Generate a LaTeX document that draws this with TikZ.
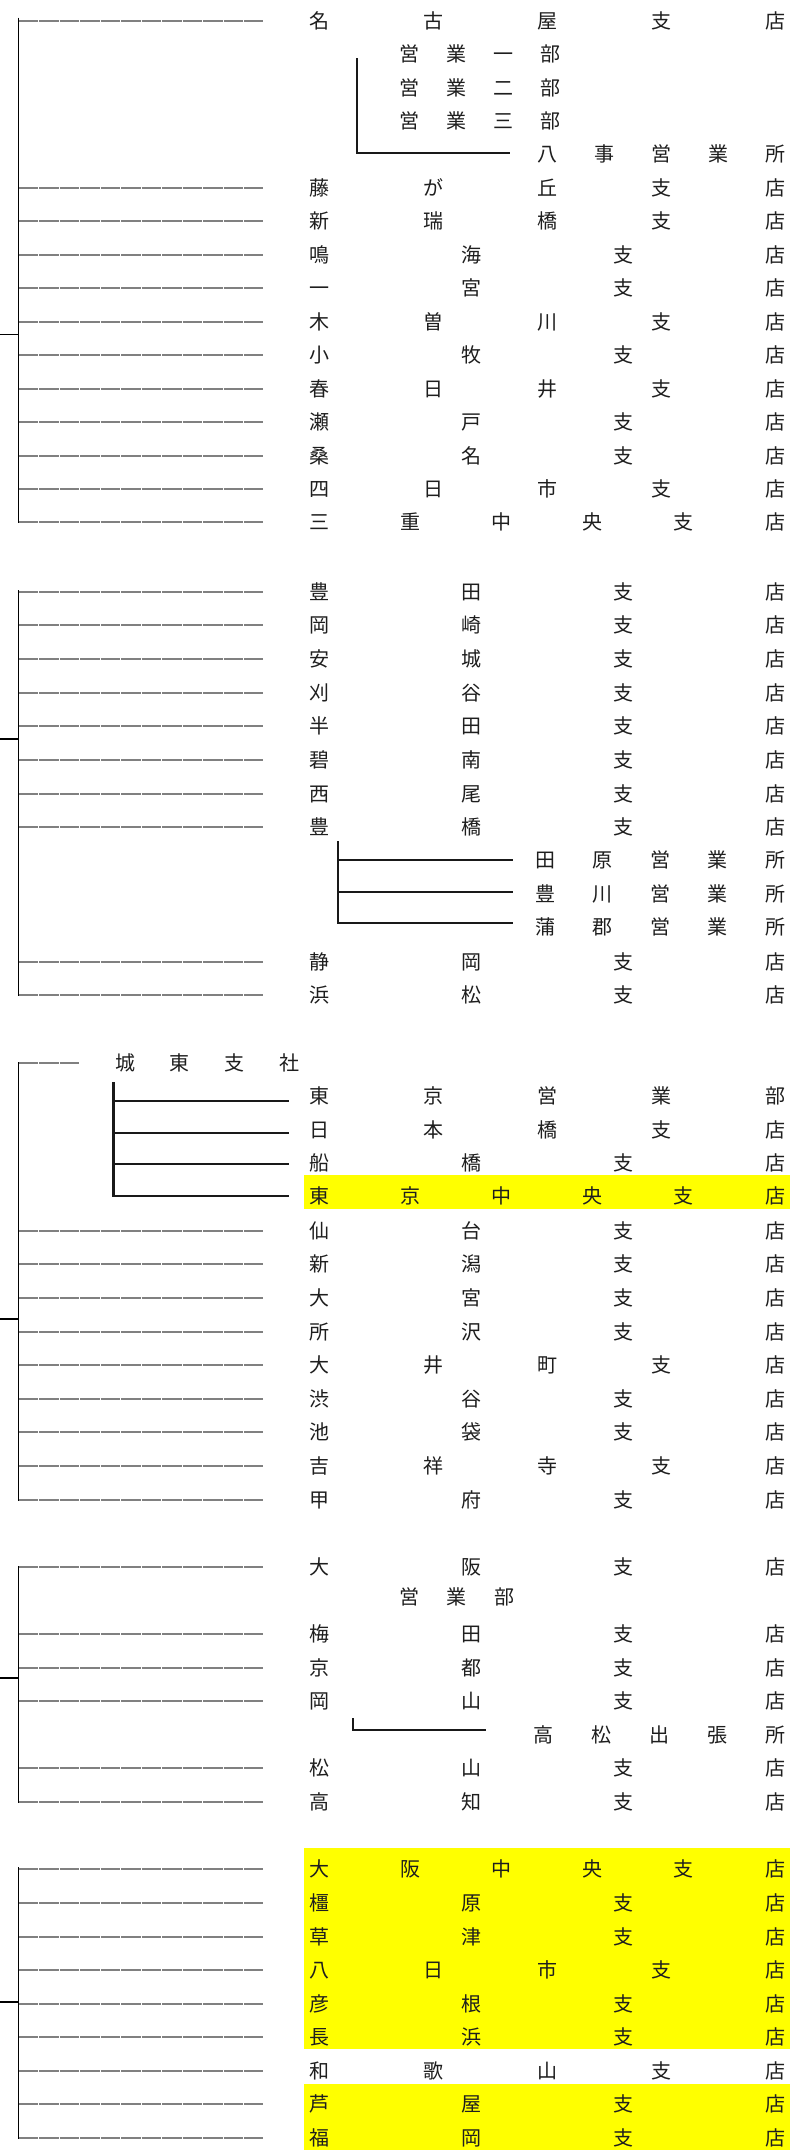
\documentclass[tikz,border=0pt]{standalone}
\usepackage{fontspec}
\newfontfamily\cjk{Noto Sans CJK JP}
\definecolor{lnk}{RGB}{128,128,128}
\definecolor{txt}{RGB}{30,30,30}
\definecolor{hly}{RGB}{255,255,0}
\tikzset{
  graylink/.style={draw=lnk, line width=2pt, dash pattern=on 19.7pt off 0.8pt},
  trunk/.style={draw=black, line width=1.8pt},
  sublink/.style={draw=black!90, line width=2.2pt},
  lbl/.style={anchor=west, inner sep=0pt, outer sep=0pt, text=txt, font=\cjk\fontsize{20}{24}\selectfont},
  hl/.style={fill=hly}
}
\newcommand\W[1]{\hbox to 476pt{#1}}
% main row: name, line y, text y, content
\newcommand\mrow[4]{%
  \coordinate (#1j) at (18.5,#2);
  \coordinate (#1e) at (263,#2);
  \draw[graylink] (#1j) -- (#1e);
  \node[lbl] (#1) at (309,#3) {\W{#4}};}
\begin{document}
\begin{tikzpicture}[x=1pt,y=-1pt]
\useasboundingbox (0,0) rectangle (802,2150);
\fill[white] (0,0) rectangle (802,2150);
% highlights
\fill[hl] (304,1175) rectangle (790,1209);
\fill[hl] (304,1848) rectangle (790,2049);
\fill[hl] (304,2084) rectangle (790,2150);

% ===== Group 1 =====
\mrow{nagoya}{20.6}{20.6}{名\hfill 古\hfill 屋\hfill 支\hfill 店}
\node[lbl] (eg1) at (399,54) {\hbox to 161pt{営\hfill 業\hfill 一\hfill 部}};
\node[lbl] (eg2) at (399,87.5) {\hbox to 161pt{営\hfill 業\hfill 二\hfill 部}};
\node[lbl] (eg3) at (399,121) {\hbox to 161pt{営\hfill 業\hfill 三\hfill 部}};
\node[lbl] (yagoto) at (537,154.4) {\hbox to 248pt{八\hfill 事\hfill 営\hfill 業\hfill 所}};
\coordinate (b1t) at (357,58);
\coordinate (b1c) at (357,153.3);
\coordinate (b1e) at (510,153.3);
\draw[sublink] (b1t) -- (b1c) -- (b1e);
\mrow{fujigaoka}{188}{188}{藤\hfill が\hfill 丘\hfill 支\hfill 店}
\mrow{aratama}{221.3}{221.3}{新\hfill 瑞\hfill 橋\hfill 支\hfill 店}
\mrow{narumi}{254.8}{254.8}{鳴\hfill 海\hfill 支\hfill 店}
\mrow{ichinomiya}{288.2}{288.2}{一\hfill 宮\hfill 支\hfill 店}
\mrow{kisogawa}{321.7}{321.7}{木\hfill 曽\hfill 川\hfill 支\hfill 店}
\mrow{komaki}{355}{355}{小\hfill 牧\hfill 支\hfill 店}
\mrow{kasugai}{388.6}{388.6}{春\hfill 日\hfill 井\hfill 支\hfill 店}
\mrow{seto}{422}{422}{瀬\hfill 戸\hfill 支\hfill 店}
\mrow{kuwana}{455.5}{455.5}{桑\hfill 名\hfill 支\hfill 店}
\mrow{yokkaichi}{489}{489}{四\hfill 日\hfill 市\hfill 支\hfill 店}
\mrow{miechuo}{522.4}{522.4}{三\hfill 重\hfill 中\hfill 央\hfill 支\hfill 店}
\coordinate (g1top) at (18.5,17.5);
\coordinate (g1bot) at (18.5,523.4);
\draw[trunk] (g1top) -- (g1bot);
\coordinate (g1s0) at (0,334.5);
\coordinate (g1s) at (18.5,334.5);
\draw[trunk] (g1s0) -- (g1s);

% ===== Group 2 =====
\mrow{toyota}{592}{592}{豊\hfill 田\hfill 支\hfill 店}
\mrow{okazaki}{625}{625}{岡\hfill 崎\hfill 支\hfill 店}
\mrow{anjo}{659}{659}{安\hfill 城\hfill 支\hfill 店}
\mrow{kariya}{693}{693}{刈\hfill 谷\hfill 支\hfill 店}
\mrow{handa}{726}{726}{半\hfill 田\hfill 支\hfill 店}
\mrow{hekinan}{760}{760}{碧\hfill 南\hfill 支\hfill 店}
\mrow{nishio}{794}{794}{西\hfill 尾\hfill 支\hfill 店}
\mrow{toyohashi}{827}{827}{豊\hfill 橋\hfill 支\hfill 店}
\node[lbl] (tahara) at (535,860) {\hbox to 250pt{田\hfill 原\hfill 営\hfill 業\hfill 所}};
\node[lbl] (toyokawa) at (535,894) {\hbox to 250pt{豊\hfill 川\hfill 営\hfill 業\hfill 所}};
\node[lbl] (gamagori) at (535,927) {\hbox to 250pt{蒲\hfill 郡\hfill 営\hfill 業\hfill 所}};
\coordinate (b2t) at (338,841);
\coordinate (b2a) at (338,860);
\coordinate (b2b) at (338,891.7);
\coordinate (b2c) at (338,922.7);
\coordinate (b2ae) at (513,860);
\coordinate (b2be) at (513,891.7);
\coordinate (b2ce) at (513,922.7);
\draw[sublink] (b2t) -- (b2c) -- (b2ce);
\draw[sublink] (b2a) -- (b2ae);
\draw[sublink] (b2b) -- (b2be);
\mrow{shizuoka}{962}{962}{静\hfill 岡\hfill 支\hfill 店}
\mrow{hamamatsu}{995}{995}{浜\hfill 松\hfill 支\hfill 店}
\coordinate (g2top) at (18.5,590);
\coordinate (g2bot) at (18.5,996);
\draw[trunk] (g2top) -- (g2bot);
\coordinate (g2s0) at (0,739);
\coordinate (g2s) at (18.5,739);
\draw[trunk] (g2s0) -- (g2s);

% ===== Group 3 =====
\coordinate (jtj) at (18.5,1063);
\coordinate (jte) at (79,1063);
\draw[graylink] (jtj) -- (jte);
\node[lbl] (joto) at (115,1063) {\hbox to 184pt{城\hfill 東\hfill 支\hfill 社}};
\node[lbl] (tokyoeigyo) at (309,1096) {\W{東\hfill 京\hfill 営\hfill 業\hfill 部}};
\node[lbl] (nihonbashi) at (309,1130) {\W{日\hfill 本\hfill 橋\hfill 支\hfill 店}};
\node[lbl] (funabashi) at (309,1163) {\W{船\hfill 橋\hfill 支\hfill 店}};
\node[lbl] (tokyochuo) at (309,1196) {\W{東\hfill 京\hfill 中\hfill 央\hfill 支\hfill 店}};
\coordinate (b3t) at (113.5,1082);
\coordinate (b3a) at (113.5,1101);
\coordinate (b3b) at (113.5,1133);
\coordinate (b3c) at (113.5,1164);
\coordinate (b3d) at (113.5,1196);
\coordinate (b3ae) at (289,1101);
\coordinate (b3be) at (289,1133);
\coordinate (b3ce) at (289,1164);
\coordinate (b3de) at (289,1196);
\draw[sublink] (b3t) -- (b3d) -- (b3de);
\draw[sublink] (b3a) -- (b3ae);
\draw[sublink] (b3b) -- (b3be);
\draw[sublink] (b3c) -- (b3ce);
\mrow{sendai}{1231}{1231}{仙\hfill 台\hfill 支\hfill 店}
\mrow{niigata}{1264}{1264}{新\hfill 潟\hfill 支\hfill 店}
\mrow{omiya}{1298}{1298}{大\hfill 宮\hfill 支\hfill 店}
\mrow{tokorozawa}{1332}{1332}{所\hfill 沢\hfill 支\hfill 店}
\mrow{oimachi}{1365}{1365}{大\hfill 井\hfill 町\hfill 支\hfill 店}
\mrow{shibuya}{1399}{1399}{渋\hfill 谷\hfill 支\hfill 店}
\mrow{ikebukuro}{1432}{1432}{池\hfill 袋\hfill 支\hfill 店}
\mrow{kichijoji}{1466}{1466}{吉\hfill 祥\hfill 寺\hfill 支\hfill 店}
\mrow{kofu}{1500}{1500}{甲\hfill 府\hfill 支\hfill 店}
\coordinate (g3top) at (18.5,1062);
\coordinate (g3bot) at (18.5,1501);
\draw[trunk] (g3top) -- (g3bot);
\coordinate (g3s0) at (0,1319);
\coordinate (g3s) at (18.5,1319);
\draw[trunk] (g3s0) -- (g3s);

% ===== Group 4 =====
\mrow{osaka}{1567}{1567}{大\hfill 阪\hfill 支\hfill 店}
\node[lbl] (osakaeigyo) at (399,1597) {\hbox to 115pt{営\hfill 業\hfill 部}};
\mrow{umeda}{1634}{1634}{梅\hfill 田\hfill 支\hfill 店}
\mrow{kyoto}{1668}{1668}{京\hfill 都\hfill 支\hfill 店}
\mrow{okayama}{1701}{1701}{岡\hfill 山\hfill 支\hfill 店}
\node[lbl] (takamatsu) at (533,1735) {\hbox to 252pt{高\hfill 松\hfill 出\hfill 張\hfill 所}};
\coordinate (b4t) at (353,1718);
\coordinate (b4c) at (353,1730);
\coordinate (b4e) at (486,1730);
\draw[sublink] (b4t) -- (b4c) -- (b4e);
\mrow{matsuyama}{1768}{1768}{松\hfill 山\hfill 支\hfill 店}
\mrow{kochi}{1802}{1802}{高\hfill 知\hfill 支\hfill 店}
\coordinate (g4top) at (18.5,1566);
\coordinate (g4bot) at (18.5,1803);
\draw[trunk] (g4top) -- (g4bot);
\coordinate (g4s0) at (0,1678);
\coordinate (g4s) at (18.5,1678);
\draw[trunk] (g4s0) -- (g4s);

% ===== Group 5 =====
\mrow{osakachuo}{1869}{1869}{大\hfill 阪\hfill 中\hfill 央\hfill 支\hfill 店}
\mrow{kashihara}{1903}{1903}{橿\hfill 原\hfill 支\hfill 店}
\mrow{kusatsu}{1937}{1937}{草\hfill 津\hfill 支\hfill 店}
\mrow{yokaichi}{1970}{1970}{八\hfill 日\hfill 市\hfill 支\hfill 店}
\mrow{hikone}{2004}{2004}{彦\hfill 根\hfill 支\hfill 店}
\mrow{nagahama}{2037}{2037}{長\hfill 浜\hfill 支\hfill 店}
\mrow{wakayama}{2071}{2071}{和\hfill 歌\hfill 山\hfill 支\hfill 店}
\mrow{ashiya}{2104}{2104}{芦\hfill 屋\hfill 支\hfill 店}
\mrow{fukuoka}{2138}{2138}{福\hfill 岡\hfill 支\hfill 店}
\coordinate (g5top) at (18.5,1867);
\coordinate (g5bot) at (18.5,2139);
\draw[trunk] (g5top) -- (g5bot);
\coordinate (g5s0) at (0,2002);
\coordinate (g5s) at (18.5,2002);
\draw[trunk] (g5s0) -- (g5s);
\end{tikzpicture}
\end{document}
